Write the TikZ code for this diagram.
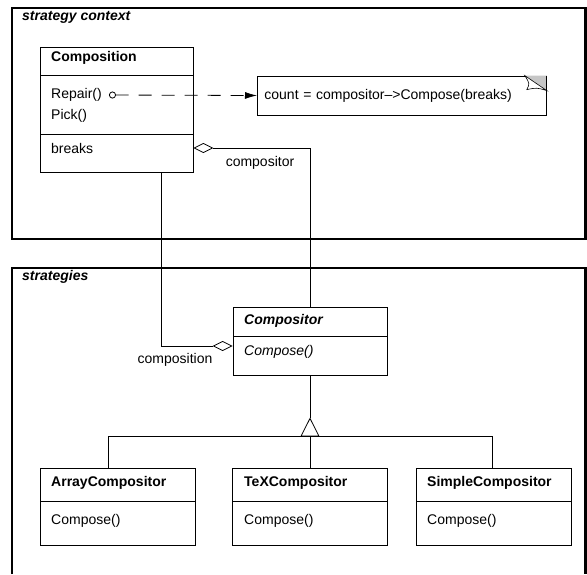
\documentclass[tikz,border=0pt]{standalone}
\usepackage{fontspec}
\setmainfont{Liberation Sans}
\usetikzlibrary{arrows.meta}
\begin{document}
\fontsize{14}{16}\selectfont
\begin{tikzpicture}
 [
 x=1pt, y=-1pt,
 frame/.style={draw=black, line width=2.4pt},
 framelabel/.style={anchor=west, inner sep=0pt, font=\bfseries\itshape},
 classbox/.style={rectangle, draw=black, fill=white, line width=0.8pt, inner sep=0pt},
 member/.style={anchor=west, inner sep=0pt},
 classname/.style={anchor=west, inner sep=0pt, font=\bfseries},
 notebox/.style={rectangle, draw=black, fill=white, line width=0.8pt, text width=275pt, align=left, inner xsep=7pt, minimum height=39pt},
 link/.style={draw=black, line width=0.8pt},
 aggr/.style={{Diamond[open, length=20pt, width=10pt]}-},
 inherit/.style={-{Triangle[open, length=19pt, width=19pt]}}
 ]
 \useasboundingbox (0,0) rectangle (587,574);
 % frames
 \draw[frame] (12,8) rectangle (585.5,239);
 \draw[frame] (12,574) -- (12,268) -- (585.5,268) -- (585.5,574);
 \node at (22,17) [framelabel] (ctxlabel) {strategy context};
 \node at (22,277) [framelabel] (stratlabel) {strategies};

 % Composition
 \node at (116.5,109.5) [classbox, minimum width=153pt, minimum height=125pt] (composition) {};
 \draw[link] (40,75) -- (193,75);
 \draw[link] (40,134) -- (193,134);
 \node at (51,58) [classname] (compositionname) {Composition};
 \node at (51,95) [member] (repair) {Repair()};
 \node at (51,116) [member] (pick) {Pick()};
 \node at (51,148) [member] (breaks) {breaks};

 % note
 \node at (257,95.5) [notebox, anchor=west] (note) {count = compositor{\textendash}>Compose(breaks)};
 \fill[gray!45] ([xshift=-22pt]note.north east) -- (note.north east) -- ([yshift=-15pt]note.north east) -- cycle;
 \filldraw[fill=white, line width=0.6pt] ([xshift=-22pt]note.north east) .. controls ([xshift=-17pt,yshift=-8pt]note.north east) .. ([xshift=-20pt,yshift=-14pt]note.north east)
   .. controls ([xshift=-10pt,yshift=-12pt]note.north east) .. ([yshift=-15pt]note.north east) -- cycle;
 \draw[line width=0.8pt] (note.north east) -- (note.south east);
 \draw[link, dash pattern=on 13pt off 10pt, {Circle[open, length=7pt]}-{Latex[length=12pt, width=7pt]}]
   ([xshift=7pt]repair.east) -- (note.west);

 % Compositor
 \node at (310,341) [classbox, minimum width=154pt, minimum height=68pt] (compositor) {};
 \draw[link] (233,336) -- (387,336);
 \node at (244,321) [classname, font=\bfseries\itshape] (compositorname) {Compositor};
 \node at (244,352) [member, font=\itshape] (compose) {Compose()};

 % aggregations
 \coordinate (downlink) at (161,172);
 \draw[link, aggr] (composition.east |- breaks) -| (compositor.north);
 \node at (260,163) [member, anchor=center] (rolecompositor) {compositor};
 \draw[link, aggr] ([yshift=-5pt]compositor.west) -| (downlink);
 \node at (175,360) [member, anchor=center] (rolecomposition) {composition};

 % subclasses
 \node at (117.5,507) [classbox, minimum width=155pt, minimum height=77pt] (array) {};
 \node at (310,507) [classbox, minimum width=155pt, minimum height=77pt] (tex) {};
 \node at (493.5,507) [classbox, minimum width=155pt, minimum height=77pt] (simple) {};
 \draw[link] (40,501) -- (195,501);
 \draw[link] (232.5,501) -- (387.5,501);
 \draw[link] (416,501) -- (571,501);
 \node at (51,483) [classname] (arrayname) {ArrayCompositor};
 \node at (51,521) [member] (arraycompose) {Compose()};
 \node at (244,483) [classname] (texname) {TeXCompositor};
 \node at (244,521) [member] (texcompose) {Compose()};
 \node at (427,483) [classname] (simplename) {SimpleCompositor};
 \node at (427,521) [member] (simplecompose) {Compose()};

 % inheritance
 \coordinate (fork) at (310,436.5);
 \coordinate (apex) at (310,417.5);
 \draw[link] (compositor.south) -- (apex);
 \draw[link] ([xshift=-9.5pt]array.north) |- (fork) -| ([xshift=-1.5pt]simple.north);
 \draw[link] (tex.north) -- (fork);
 \draw[link, inherit, fill=white] (fork) -- (apex);
\end{tikzpicture}
\end{document}
